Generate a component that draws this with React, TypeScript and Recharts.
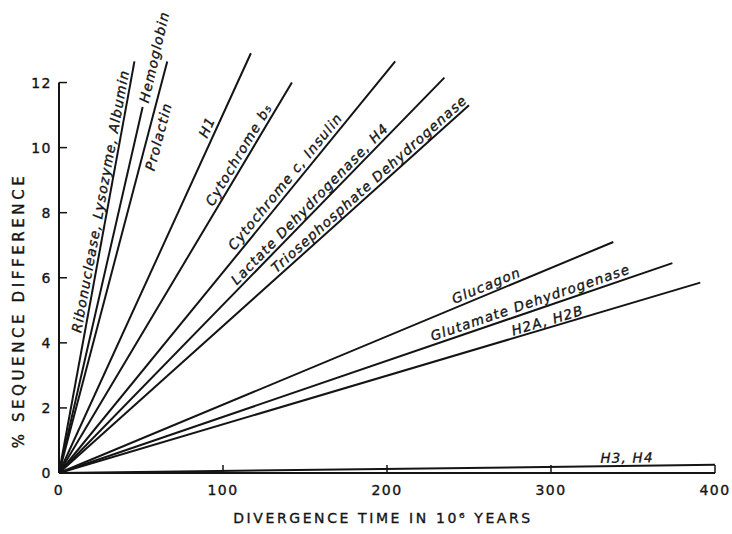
import { LineChart, Line, XAxis, YAxis, ReferenceLine } from 'recharts'

const proteins = [
  'Ribonuclease, Lysozyme, Albumin',
  'Hemoglobin',
  'Prolactin',
  'H1',
  'Cytochrome b₅',
  'Cytochrome c, Insulin',
  'Lactate Dehydrogenase, H4',
  'Triosephosphate Dehydrogenase',
  'Glucagon',
  'Glutamate Dehydrogenase',
  'H2A, H2B',
  'H3, H4',
]
// end point of each line (divergence time in 10^6 years, % difference)
const divergenceTime = [46, 51, 66, 117, 142, 205, 235, 250, 338, 374, 391, 400]
const sequenceDiff = [12.65, 11.25, 12.65, 12.9, 12.0, 12.65, 12.15, 11.3, 7.1, 6.45, 5.85, 0.25]

const xTicks = [0, 100, 200, 300, 400]
const yTicks = [0, 2, 4, 6, 8, 10, 12]

// where the name sits: fraction along the line, px off the line (+ = upper-left side)
const labelAt = [0.657, 1.137, 0.824, 0.815, 0.804, 0.694, 0.666, 0.77, 0.777, 0.773, 0.765, 0.866]
const labelSide = [8.5, 0, -10.5, 9.5, 9, 9.5, 8.5, 8.5, 9, 9, 7.5, 8.5]

const INK = '#141414'
const FONT = "'DejaVu Sans', sans-serif"
const textInk = { fill: INK, stroke: INK, strokeWidth: 0.35 }

const origins: Record<number, { x: number; y: number }> = {}

function makeLabelDot(i: number) {
  return (props: any) => {
    const { cx, cy, index, points } = props
    if (index === 0) {
      origins[i] = { x: cx, y: cy }
      return <g key={`o-${i}`} />
    }
    const p0 = points?.[0] ?? origins[i]
    if (!p0) return <g key={`e-${i}`} />
    const dx = cx - p0.x
    const dy = cy - p0.y
    const len = Math.hypot(dx, dy)
    const ux = dx / len
    const uy = dy / len
    const t = labelAt[i]
    const d = labelSide[i]
    const tx = p0.x + t * dx + d * uy
    const ty = p0.y + t * dy - d * ux
    const angle = (Math.atan2(uy, ux) * 180) / Math.PI
    return (
      <text
        key={`l-${i}`}
        x={tx}
        y={ty}
        transform={`rotate(${angle} ${tx} ${ty})`}
        textAnchor="middle"
        dominantBaseline="central"
        fontFamily={FONT}
        fontStyle="italic"
        fontSize={13.5}
        letterSpacing={1.2}
        {...textInk}
      >
        {proteins[i]}
      </text>
    )
  }
}

function XTick(props: any) {
  const { x, y, payload } = props
  return (
    <g>
      {payload.value !== 0 && (
        <line x1={x} x2={x} y1={y} y2={y - 8} stroke={INK} strokeWidth={1.5} />
      )}
      <text
        x={x}
        y={y + 22}
        textAnchor="middle"
        fontFamily={FONT}
        fontSize={14}
        letterSpacing={1.5}
        {...textInk}
      >
        {payload.value}
      </text>
    </g>
  )
}

function YTick(props: any) {
  const { x, y, payload } = props
  return (
    <g>
      {payload.value !== 0 && (
        <line x1={x} x2={x + 8} y1={y} y2={y} stroke={INK} strokeWidth={1.5} />
      )}
      <text
        x={x - 7}
        y={y}
        textAnchor="end"
        dominantBaseline="central"
        fontFamily={FONT}
        fontSize={14}
        letterSpacing={1.5}
        {...textInk}
      >
        {payload.value}
      </text>
    </g>
  )
}

function YTitle(props: any) {
  const vb = props.viewBox
  const cx = vb.x + 19
  const cy = vb.y + vb.height / 2 + 49
  return (
    <text
      x={cx}
      y={cy}
      transform={`rotate(-90 ${cx} ${cy})`}
      textAnchor="middle"
      dominantBaseline="central"
      fontFamily={FONT}
      fontSize={15}
      letterSpacing={3.6}
      {...textInk}
    >
      % SEQUENCE DIFFERENCE
    </text>
  )
}

function XTitle(props: any) {
  const vb = props.viewBox
  const cx = vb.x + vb.width / 2 - 4
  const cy = vb.y + 45
  return (
    <text
      x={cx}
      y={cy}
      textAnchor="middle"
      dominantBaseline="central"
      fontFamily={FONT}
      fontSize={14}
      letterSpacing={2.6}
      {...textInk}
    >
      DIVERGENCE TIME IN 10⁶ YEARS
    </text>
  )
}

export default function App() {
  const series = proteins.map((name, i) => ({
    name,
    data: [
      { x: 0, y: 0 },
      { x: divergenceTime[i], y: sequenceDiff[i] },
    ],
  }))

  return (
    <div style={{ position: 'absolute', left: 0, top: 0, width: 732, height: 534, background: '#fff' }}>
      <LineChart
        width={732}
        height={534}
        margin={{ top: 50, right: 17, bottom: 0, left: 0 }}
      >
        <XAxis
          type="number"
          dataKey="x"
          domain={[0, 400]}
          ticks={xTicks}
          height={61}
          tickSize={0}
          tickMargin={0}
          tickLine={false}
          axisLine={{ stroke: INK, strokeWidth: 2 }}
          tick={<XTick />}
          label={{ content: <XTitle /> }}
        />
        <YAxis
          type="number"
          dataKey="y"
          domain={[0, 13]}
          ticks={yTicks}
          width={59}
          tickSize={0}
          tickMargin={0}
          tickLine={false}
          axisLine={false}
          tick={<YTick />}
          label={{ content: <YTitle /> }}
        />
        <ReferenceLine
          segment={[
            { x: 0, y: 0 },
            { x: 0, y: 12 },
          ]}
          stroke={INK}
          strokeWidth={2}
        />
        {series.map((s, i) => (
          <Line
            key={s.name}
            data={s.data}
            dataKey="y"
            name={s.name}
            type="linear"
            stroke={INK}
            strokeWidth={2}
            dot={makeLabelDot(i)}
            activeDot={false}
            isAnimationActive={false}
          />
        ))}
      </LineChart>
    </div>
  )
}
